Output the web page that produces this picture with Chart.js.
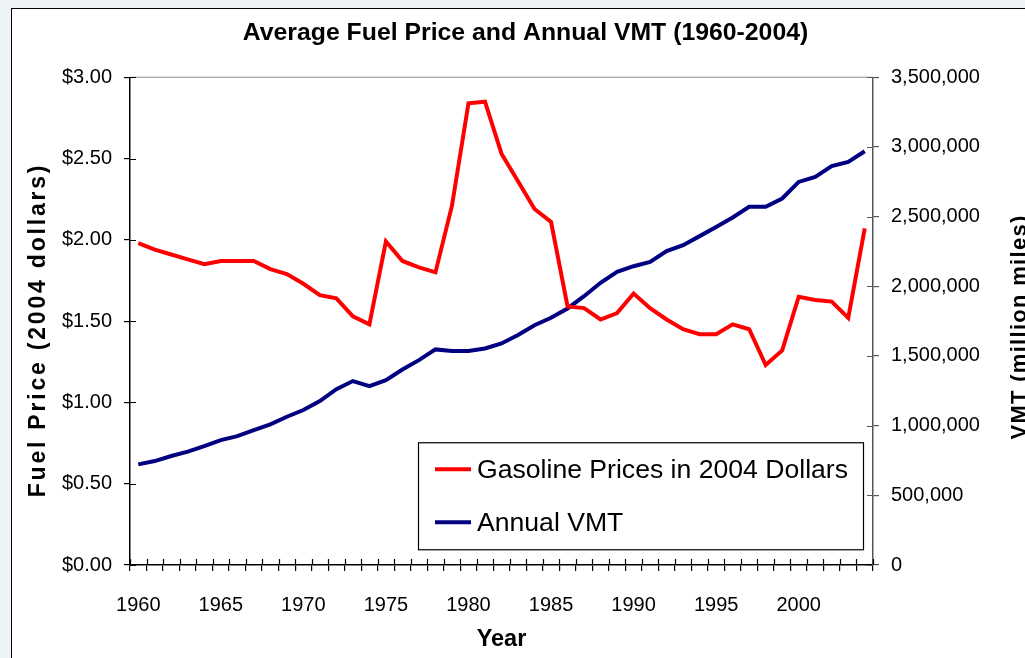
<!DOCTYPE html>
<html>
<head>
<meta charset="utf-8">
<title>Average Fuel Price and Annual VMT</title>
<script src="https://cdn.jsdelivr.net/npm/chart.js@4.4.0/dist/chart.umd.min.js"></script>
<style>
  html, body { margin: 0; padding: 0; background: #eef3f8; overflow: hidden; }
  #frame { position: absolute; left: 11px; top: 8px; width: 1100px; height: 700px; background: #fff; border: 1.5px solid #000; }
  #wrap { position: absolute; left: 0; top: 0; width: 1025px; height: 658px; }
</style>
</head>
<body>
<div id="frame"></div>
<div id="wrap"><canvas id="myChart" width="1025" height="658"></canvas></div>
<script>
// data

const chartTitle = "Average Fuel Price and Annual VMT (1960-2004)";
const xTitle = "Year";
const yTitle = "Fuel Price (2004 dollars)";
const y2Title = "VMT (million miles)";

const years = [];
for (let y = 1960; y <= 2004; y++) years.push(y);

const gasPrice = [1.98, 1.94, 1.91, 1.88, 1.85, 1.87, 1.87, 1.87, 1.82, 1.79,
                  1.73, 1.66, 1.64, 1.53, 1.48, 1.99, 1.87, 1.83, 1.80, 2.21,
                  2.84, 2.85, 2.53, 2.36, 2.19, 2.11, 1.59, 1.58, 1.51, 1.55,
                  1.67, 1.58, 1.51, 1.45, 1.42, 1.42, 1.48, 1.45, 1.23, 1.32,
                  1.65, 1.63, 1.62, 1.52, 2.07];

const vmt = [722000, 746000, 782000, 813000, 853000, 896000, 925000, 968000, 1009000, 1064000,
             1112000, 1176000, 1262000, 1320000, 1284000, 1327000, 1403000, 1470000, 1547000, 1535000,
             1535000, 1554000, 1590000, 1650000, 1721000, 1774000, 1841000, 1929000, 2025000, 2104000,
             2144000, 2175000, 2252000, 2295000, 2360000, 2426000, 2494000, 2570000, 2570000, 2630000,
             2749000, 2785000, 2862000, 2893000, 2969000];

const seriesNames = ["Gasoline Prices in 2004 Dollars", "Annual VMT"];

const FONT = "'Liberation Sans', Arial, sans-serif";

// inner half of the crossing tick marks + grey top border
const innerTicks = {
  id: "innerTicks",
  beforeDatasetsDraw(chart) {
    const ctx = chart.ctx;
    const a = chart.chartArea;
    const sc = chart.scales;
    ctx.save();
    ctx.lineWidth = 1.2;
    ctx.strokeStyle = "#8c8c8c";
    ctx.beginPath();
    ctx.moveTo(a.left, a.top);
    ctx.lineTo(a.right, a.top);
    ctx.stroke();

    ctx.strokeStyle = "#000";
    ctx.beginPath();
    for (let i = 0; i <= years.length; i++) {
      const x = Math.round(sc.x.getPixelForValue(i - 0.5)) + 0.5;
      ctx.moveTo(x, a.bottom);
      ctx.lineTo(x, a.bottom - 6);
    }
    sc.y.ticks.forEach((t, i) => {
      const y = Math.round(sc.y.getPixelForTick(i)) + 0.5;
      ctx.moveTo(a.left, y);
      ctx.lineTo(a.left + 6, y);
    });
    ctx.stroke();

    ctx.strokeStyle = "#555";
    ctx.beginPath();
    sc.y2.ticks.forEach((t, i) => {
      const y = Math.round(sc.y2.getPixelForTick(i)) + 0.5;
      ctx.moveTo(a.right, y);
      ctx.lineTo(a.right - 6, y);
    });
    ctx.stroke();
    ctx.restore();
  }
};

// boxed legend inside the plot
const legendBox = {
  id: "legendBox",
  afterDatasetsDraw(chart) {
    const ctx = chart.ctx;
    const a = chart.chartArea;
    const x0 = a.left + 288, y0 = a.top + 365, w = 445, h = 107;
    ctx.save();
    ctx.fillStyle = "#fff";
    ctx.fillRect(x0, y0, w, h);
    ctx.strokeStyle = "#000";
    ctx.lineWidth = 1.2;
    ctx.strokeRect(x0 + 0.5, y0 + 0.5, w, h);
    ctx.font = "26.6px " + FONT;
    ctx.textBaseline = "middle";
    chart.data.datasets.forEach((ds, i) => {
      const y = y0 + 27 + i * 53;
      ctx.strokeStyle = ds.borderColor;
      ctx.lineWidth = 4;
      ctx.beginPath();
      ctx.moveTo(x0 + 17, y);
      ctx.lineTo(x0 + 53, y);
      ctx.stroke();
      ctx.fillStyle = "#000";
      ctx.fillText(ds.label, x0 + 59, y + 1);
    });
    ctx.restore();
  }
};

// rotated side titles
function rotText(ctx, txt, x, y) {
  ctx.save();
  ctx.translate(x, y);
  ctx.rotate(-Math.PI / 2);
  ctx.fillText(txt, 0, 0);
  ctx.restore();
}

const sideTitles = {
  id: "sideTitles",
  afterDraw(chart) {
    const ctx = chart.ctx;
    ctx.save();
    ctx.fillStyle = "#000";
    ctx.textAlign = "center";
    ctx.textBaseline = "middle";
    ctx.font = "bold 23px " + FONT;
    ctx.letterSpacing = "2.8px";
    rotText(ctx, yTitle, 39, 330);
    ctx.font = "bold 22px " + FONT;
    ctx.letterSpacing = "1.3px";
    rotText(ctx, y2Title, 1020, 327);
    ctx.restore();
  }
};

const data = {
  labels: years,
  datasets: [
    {
      label: seriesNames[0],
      data: gasPrice,
      yAxisID: "y",
      borderColor: "#ff0000",
      borderWidth: 4,
      pointRadius: 0,
      tension: 0,
    },
    {
      label: seriesNames[1],
      data: vmt,
      yAxisID: "y2",
      borderColor: "#000080",
      borderWidth: 4,
      pointRadius: 0,
      tension: 0,
    },
  ],
};

const config = {
  type: "line",
  data: data,
  options: {
    responsive: false,
    devicePixelRatio: 1,
    animation: false,
    layout: { padding: { left: 26, right: 0, top: 0, bottom: 0 } },
    plugins: {
      legend: { display: false },
      tooltip: { enabled: false },
      title: {
        display: true,
        text: chartTitle,
        color: "#000",
        font: { family: FONT, size: 24.8, weight: "bold" },
        padding: { top: 18.5, bottom: 29 },
      },
    },
    scales: {
      x: {
        type: "category",
        offset: true,
        afterFit: (s) => { s.height = 93; },
        grid: { display: true, offset: true, drawOnChartArea: false, drawTicks: true, tickLength: 6, color: "#000", lineWidth: 1.2 },
        border: { color: "#000", width: 1.5 },
        ticks: {
          autoSkip: false,
          maxRotation: 0,
          padding: 22,
          color: "#000",
          font: { family: FONT, size: 20 },
          callback: function (v, i) {
            const yr = years[i];
            return yr % 5 === 0 ? String(yr) : "";
          },
        },
        title: {
          display: true,
          text: xTitle,
          color: "#000",
          font: { family: FONT, size: 23.5, weight: "bold" },
          padding: { top: 0, bottom: 4 },
        },
      },
      y: {
        position: "left",
        min: 0,
        max: 3,
        afterFit: (s) => { s.width = 104; },
        grid: { drawOnChartArea: false, tickLength: 6, color: "#000", lineWidth: 1.2 },
        border: { color: "#000", width: 1.5 },
        ticks: {
          stepSize: 0.5,
          padding: 12,
          color: "#000",
          font: { family: FONT, size: 20 },
          callback: (v) => "$" + Number(v).toFixed(2),
        },
      },
      y2: {
        position: "right",
        min: 0,
        max: 3500000,
        afterFit: (s) => { s.width = 152; },
        grid: { drawOnChartArea: false, tickLength: 6, color: "#555", lineWidth: 1.2 },
        border: { color: "#555", width: 1.5 },
        ticks: {
          stepSize: 500000,
          padding: 12,
          color: "#000",
          font: { family: FONT, size: 20 },
          callback: (v) => Number(v).toLocaleString("en-US"),
        },
      },
    },
  },
  plugins: [innerTicks, legendBox, sideTitles],
};

const context = document.getElementById("myChart").getContext("2d");
const chart = new Chart(context, config);
</script>
</body>
</html>
